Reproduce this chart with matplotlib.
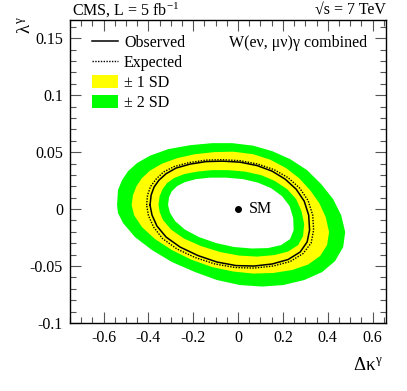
import numpy as np
import matplotlib
matplotlib.use('Agg')
import matplotlib.pyplot as plt
from matplotlib.lines import Line2D
from matplotlib.patches import Patch
from matplotlib.ticker import MultipleLocator

plt.rcParams['font.family'] = ['Liberation Serif', 'DejaVu Serif']
plt.rcParams['mathtext.fontset'] = 'custom'
plt.rcParams['mathtext.rm'] = 'Liberation Serif'
plt.rcParams['mathtext.it'] = 'Liberation Serif'

# contours (delta kappa, lambda)
outer2_x = [-0.540, -0.536, -0.518, -0.491, -0.451, -0.393, -0.3125, -0.214, -0.116, -0.027,
            0.067, 0.152, 0.232, 0.308, 0.371, 0.424, 0.460, 0.478, 0.469, 0.433,
            0.375, 0.295, 0.201, 0.107, 0.009, -0.094, -0.192, -0.295, -0.384, -0.460,
            -0.513, -0.536]
outer2_y = [0.0035, 0.0167, 0.0254, 0.0333, 0.0404, 0.0469, 0.0526, 0.0561, 0.0579, 0.0579,
            0.0557, 0.0509, 0.0439, 0.0342, 0.0219, 0.0088, -0.0053, -0.0202, -0.0333, -0.0456,
            -0.0553, -0.0623, -0.0667, -0.0680, -0.0667, -0.0623, -0.0553, -0.0465, -0.0360, -0.0246,
            -0.0123, -0.0035]

outer1_x = [-0.475, -0.469, -0.453, -0.429, -0.393, -0.339, -0.272, -0.192, -0.107, -0.022,
            0.067, 0.143, 0.214, 0.272, 0.321, 0.362, 0.391, 0.406, 0.397, 0.366,
            0.3125, 0.241, 0.156, 0.067, -0.022, -0.116, -0.210, -0.295, -0.371, -0.429,
            -0.464]
outer1_y = [0.0035, 0.0123, 0.0202, 0.0272, 0.0338, 0.0399, 0.0447, 0.0482, 0.0500, 0.0504,
            0.0482, 0.0434, 0.0360, 0.0272, 0.0167, 0.0053, -0.0070, -0.0202, -0.0316, -0.0412,
            -0.0487, -0.0535, -0.0561, -0.0566, -0.0548, -0.0509, -0.0443, -0.0360, -0.0263, -0.0158,
            -0.0053]

inner1_x = [-0.355, -0.350, -0.337, -0.317, -0.286, -0.241, -0.183, -0.116, -0.045, 0.031,
            0.103, 0.165, 0.219, 0.259, 0.283, 0.295, 0.290, 0.268, 0.223, 0.161,
            0.085, 0.004, -0.080, -0.165, -0.241, -0.299, -0.335, -0.350]
inner1_y = [0.0035, 0.0114, 0.0175, 0.0228, 0.0272, 0.0307, 0.0329, 0.0342, 0.0342, 0.0329,
            0.0298, 0.0246, 0.0175, 0.0088, -0.0018, -0.0132, -0.0237, -0.0316, -0.0373, -0.0404,
            -0.0417, -0.0408, -0.0377, -0.0325, -0.0259, -0.0180, -0.0096, -0.0026]

inner2_x = [-0.3125, -0.308, -0.295, -0.272, -0.237, -0.1875, -0.125, -0.054, 0.022, 0.089,
            0.147, 0.196, 0.230, 0.246, 0.248, 0.232, 0.192, 0.134, 0.0625, -0.018,
            -0.098, -0.174, -0.237, -0.281, -0.304]
inner2_y = [0.0035, 0.0105, 0.0158, 0.0202, 0.0237, 0.0263, 0.0276, 0.0276, 0.0263, 0.0232,
            0.0184, 0.0114, 0.0026, -0.0079, -0.0184, -0.0263, -0.0316, -0.0342, -0.0346, -0.0333,
            -0.0298, -0.0246, -0.0180, -0.0105, -0.0031]

obs_x = [-0.393, -0.388, -0.375, -0.353, -0.321, -0.277, -0.214, -0.143, -0.071, 0.009,
         0.085, 0.152, 0.210, 0.259, 0.295, 0.315, 0.319, 0.308, 0.277, 0.223,
         0.152, 0.071, -0.009, -0.094, -0.179, -0.259, -0.321, -0.362, -0.384]
obs_y = [0.0035, 0.0123, 0.0193, 0.0254, 0.0311, 0.0360, 0.0395, 0.0417, 0.0421, 0.0412,
         0.0382, 0.0333, 0.0263, 0.0175, 0.0070, -0.0053, -0.0184, -0.0289, -0.0377, -0.0443,
         -0.0482, -0.0500, -0.0496, -0.0465, -0.0408, -0.0333, -0.0246, -0.0149, -0.0053]

exp_x = [-0.408, -0.404, -0.391, -0.366, -0.333, -0.286, -0.219, -0.143, -0.071, 0.009,
         0.089, 0.161, 0.223, 0.275, 0.3125, 0.333, 0.337, 0.326, 0.290, 0.232,
         0.156, 0.071, -0.013, -0.103, -0.192, -0.272, -0.337, -0.377, -0.400]
exp_y = [0.0035, 0.0123, 0.0197, 0.0263, 0.0325, 0.0373, 0.0408, 0.0430, 0.0434, 0.0425,
         0.0395, 0.0346, 0.0276, 0.0184, 0.0075, -0.0053, -0.0184, -0.0298, -0.0390, -0.0461,
         -0.0500, -0.0518, -0.0513, -0.0482, -0.0425, -0.0351, -0.0259, -0.0158, -0.0057]

sm_x, sm_y = 0.0, 0.0

fig = plt.figure(figsize=(4.07, 3.91), dpi=100)
ax = fig.add_axes([70/407, 68/391, 316/407, 303/391])

green = '#00ff00'
yellow = '#ffff00'
ax.fill(outer2_x, outer2_y, color=green, lw=0, zorder=1)
ax.fill(outer1_x, outer1_y, color=yellow, lw=0, zorder=2)
ax.fill(inner1_x, inner1_y, color=green, lw=0, zorder=3)
ax.fill(inner2_x, inner2_y, color='white', lw=0, zorder=4)

ax.plot(obs_x + obs_x[:1], obs_y + obs_y[:1], color='black', lw=1.1, zorder=5)
ax.plot(exp_x + exp_x[:1], exp_y + exp_y[:1], color='black', lw=1.0, ls=(0, (1.0, 1.0)), zorder=5)

ax.plot([sm_x], [sm_y], 'o', color='black', ms=4, zorder=6)
ax.text(sm_x + 0.05, sm_y, 'SM', fontsize=11.5, va='center', ha='left', zorder=6)

ax.set_xlim(-0.75, 0.66)
ax.set_ylim(-0.1, 0.166)
ax.xaxis.set_minor_locator(MultipleLocator(0.05))
ax.yaxis.set_minor_locator(MultipleLocator(0.01))
ax.set_xticks([-0.6, -0.4, -0.2, 0, 0.2, 0.4, 0.6])
ax.set_xticklabels(['-0.6', '-0.4', '-0.2', '0', '0.2', '0.4', '0.6'])
ax.set_yticks([-0.1, -0.05, 0, 0.05, 0.1, 0.15])
ax.set_yticklabels(['-0.1', '-0.05', '0', '0.05', '0.1', '0.15'])
ax.tick_params(which='both', direction='in', top=True, right=True, labelsize=11.5,
               color='#555555', width=0.8)
ax.tick_params(which='major', length=8, pad=5)
ax.tick_params(which='minor', length=4)
for s in ax.spines.values():
    s.set_linewidth(1.0)

fig.text(383/407, 1 - 366/391, r'$\Delta\kappa^{\gamma}$', fontsize=13.5, ha='right', va='center')
fig.text(25/407, 1 - 25/391, r'$\lambda^{\gamma}$', fontsize=13.5, ha='center', va='center', rotation=90)

fig.text(72/407, 1 - 10/391, r'CMS, L = 5 fb$^{\mathregular{-1}}$', fontsize=11.5, ha='left', va='center')
fig.text(386/407, 1 - 10/391, '\u221as = 7 TeV', fontsize=11.5, ha='right', va='center')
ax.text(0.94, 0.925, 'W(e\u03bd, \u03bc\u03bd)\u03b3 combined', transform=ax.transAxes,
        fontsize=11.5, ha='right', va='center')

handles = [Line2D([], [], color='black', lw=1.1),
           Line2D([], [], color='black', lw=1.0, ls=(0, (1.0, 1.0))),
           Patch(facecolor=yellow, edgecolor='none'),
           Patch(facecolor=green, edgecolor='none')]
labels = ['Observed', 'Expected', '\u00b1 1 SD', '\u00b1 2 SD']
ax.legend(handles, labels, loc='upper left', bbox_to_anchor=(0.07, 0.95), frameon=False,
          fontsize=11.5, handlelength=1.65, handleheight=0.8, handletextpad=0.35,
          labelspacing=0.25, borderpad=0, borderaxespad=0)

fig.savefig('out.png', dpi=100)
